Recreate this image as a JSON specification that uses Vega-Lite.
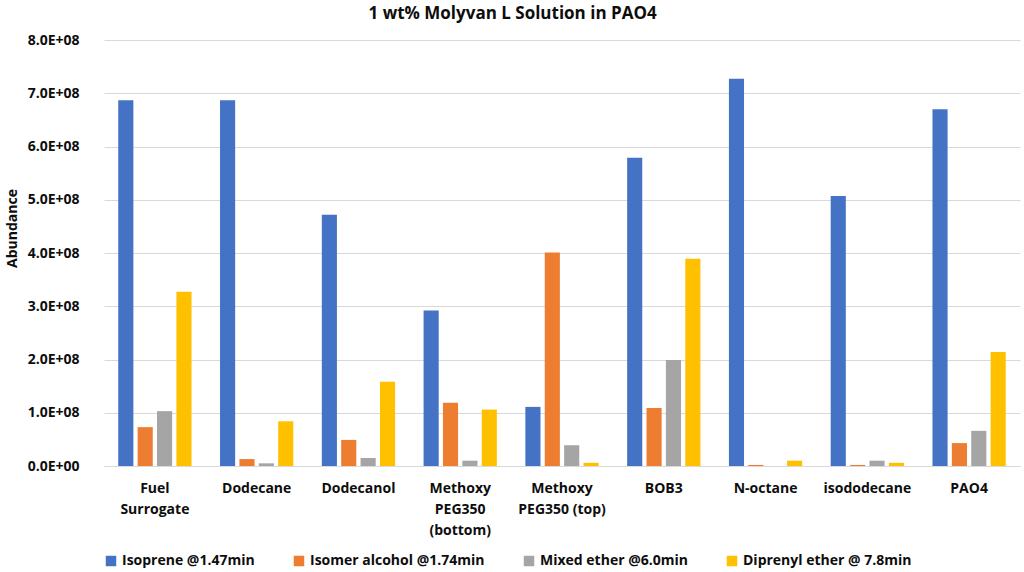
{
  "$schema": "https://vega.github.io/schema/vega-lite/v6.json",
  "description": "Grouped bars: abundance of four species per solvent",
  "autosize": {"type": "fit", "contains": "padding"},
  "width": 1024,
  "height": 572,
  "padding": {"left": 5, "right": 4, "top": 5, "bottom": 4},
  "config": {
    "background": "white",
    "view": {"stroke": "transparent"},
    "font": "Open Sans"
  },
  "title": {
    "text": "1 wt% Molyvan L Solution in PAO4",
    "fontSize": 17,
    "fontWeight": "bold",
    "color": "#0d0d0d",
    "anchor": "middle",
    "frame": "bounds",
    "offset": 10
  },
  "data": {
    "values": [
      {"sample": "Fuel Surrogate", "series": "Isoprene @1.47min", "abundance": 687000000},
      {"sample": "Fuel Surrogate", "series": "Isomer alcohol @1.74min", "abundance": 73000000},
      {"sample": "Fuel Surrogate", "series": "Mixed ether @6.0min", "abundance": 103000000},
      {"sample": "Fuel Surrogate", "series": "Diprenyl ether @ 7.8min", "abundance": 327000000},
      {"sample": "Dodecane", "series": "Isoprene @1.47min", "abundance": 687000000},
      {"sample": "Dodecane", "series": "Isomer alcohol @1.74min", "abundance": 13000000},
      {"sample": "Dodecane", "series": "Mixed ether @6.0min", "abundance": 5000000},
      {"sample": "Dodecane", "series": "Diprenyl ether @ 7.8min", "abundance": 84000000},
      {"sample": "Dodecanol", "series": "Isoprene @1.47min", "abundance": 472000000},
      {"sample": "Dodecanol", "series": "Isomer alcohol @1.74min", "abundance": 49000000},
      {"sample": "Dodecanol", "series": "Mixed ether @6.0min", "abundance": 15000000},
      {"sample": "Dodecanol", "series": "Diprenyl ether @ 7.8min", "abundance": 158000000},
      {"sample": "Methoxy PEG350 (bottom)", "series": "Isoprene @1.47min", "abundance": 292000000},
      {"sample": "Methoxy PEG350 (bottom)", "series": "Isomer alcohol @1.74min", "abundance": 119000000},
      {"sample": "Methoxy PEG350 (bottom)", "series": "Mixed ether @6.0min", "abundance": 10000000},
      {"sample": "Methoxy PEG350 (bottom)", "series": "Diprenyl ether @ 7.8min", "abundance": 106000000},
      {"sample": "Methoxy PEG350 (top)", "series": "Isoprene @1.47min", "abundance": 111000000},
      {"sample": "Methoxy PEG350 (top)", "series": "Isomer alcohol @1.74min", "abundance": 401000000},
      {"sample": "Methoxy PEG350 (top)", "series": "Mixed ether @6.0min", "abundance": 39000000},
      {"sample": "Methoxy PEG350 (top)", "series": "Diprenyl ether @ 7.8min", "abundance": 6000000},
      {"sample": "BOB3", "series": "Isoprene @1.47min", "abundance": 579000000},
      {"sample": "BOB3", "series": "Isomer alcohol @1.74min", "abundance": 109000000},
      {"sample": "BOB3", "series": "Mixed ether @6.0min", "abundance": 199000000},
      {"sample": "BOB3", "series": "Diprenyl ether @ 7.8min", "abundance": 389000000},
      {"sample": "N-octane", "series": "Isoprene @1.47min", "abundance": 727000000},
      {"sample": "N-octane", "series": "Isomer alcohol @1.74min", "abundance": 2000000},
      {"sample": "N-octane", "series": "Mixed ether @6.0min", "abundance": 0},
      {"sample": "N-octane", "series": "Diprenyl ether @ 7.8min", "abundance": 10000000},
      {"sample": "isododecane", "series": "Isoprene @1.47min", "abundance": 507000000},
      {"sample": "isododecane", "series": "Isomer alcohol @1.74min", "abundance": 2000000},
      {"sample": "isododecane", "series": "Mixed ether @6.0min", "abundance": 10000000},
      {"sample": "isododecane", "series": "Diprenyl ether @ 7.8min", "abundance": 6000000},
      {"sample": "PAO4", "series": "Isoprene @1.47min", "abundance": 670000000},
      {"sample": "PAO4", "series": "Isomer alcohol @1.74min", "abundance": 43000000},
      {"sample": "PAO4", "series": "Mixed ether @6.0min", "abundance": 66000000},
      {"sample": "PAO4", "series": "Diprenyl ether @ 7.8min", "abundance": 214000000}
    ]
  },
  "mark": {"type": "bar"},
  "encoding": {
    "x": {
      "field": "sample",
      "type": "nominal",
      "sort": null,
      "title": null,
      "scale": {"paddingInner": 0.28, "paddingOuter": 0.14},
      "axis": {
        "labelAngle": 0,
        "labelFontSize": 14,
        "labelFontWeight": "bold",
        "labelColor": "#0d0d0d",
        "labelPadding": 15,
        "labelLineHeight": 21,
        "labelLimit": 0,
        "domain": true,
        "domainColor": "#d9d9d9",
        "ticks": false,
        "labelExpr": "datum.label == 'Methoxy PEG350 (top)' ? ['Methoxy', 'PEG350 (top)'] : split(datum.label, ' ')"
      }
    },
    "xOffset": {
      "field": "series",
      "type": "nominal",
      "sort": ["Isoprene @1.47min", "Isomer alcohol @1.74min", "Mixed ether @6.0min", "Diprenyl ether @ 7.8min"],
      "scale": {"paddingInner": 0.22}
    },
    "y": {
      "field": "abundance",
      "type": "quantitative",
      "title": "Abundance",
      "scale": {"domain": [0, 800000000]},
      "axis": {
        "values": [0, 100000000, 200000000, 300000000, 400000000, 500000000, 600000000, 700000000, 800000000],
        "labelExpr": "datum.value == 0 ? '0.0E+00' : format(datum.value / 100000000, '.1f') + 'E+08'",
        "labelFontSize": 14,
        "labelFontWeight": "bold",
        "labelColor": "#0d0d0d",
        "labelPadding": 25,
        "titleFontSize": 14,
        "titleFontWeight": "bold",
        "titleColor": "#0d0d0d",
        "titlePadding": 8,
        "titleY": 188,
        "domain": false,
        "ticks": false,
        "gridColor": "#d9d9d9"
      }
    },
    "color": {
      "field": "series",
      "type": "nominal",
      "sort": ["Isoprene @1.47min", "Isomer alcohol @1.74min", "Mixed ether @6.0min", "Diprenyl ether @ 7.8min"],
      "scale": {
        "domain": ["Isoprene @1.47min", "Isomer alcohol @1.74min", "Mixed ether @6.0min", "Diprenyl ether @ 7.8min"],
        "range": ["#4472c4", "#ed7d31", "#a5a5a5", "#ffc000"]
      },
      "legend": {
        "title": null,
        "orient": "bottom",
        "direction": "horizontal",
        "symbolType": "square",
        "symbolSize": 110,
        "symbolStrokeWidth": 0,
        "labelFontSize": 14,
        "labelFontWeight": "bold",
        "labelColor": "#0d0d0d",
        "labelLimit": 0,
        "columnPadding": 37,
        "offset": 17
      }
    }
  }
}
